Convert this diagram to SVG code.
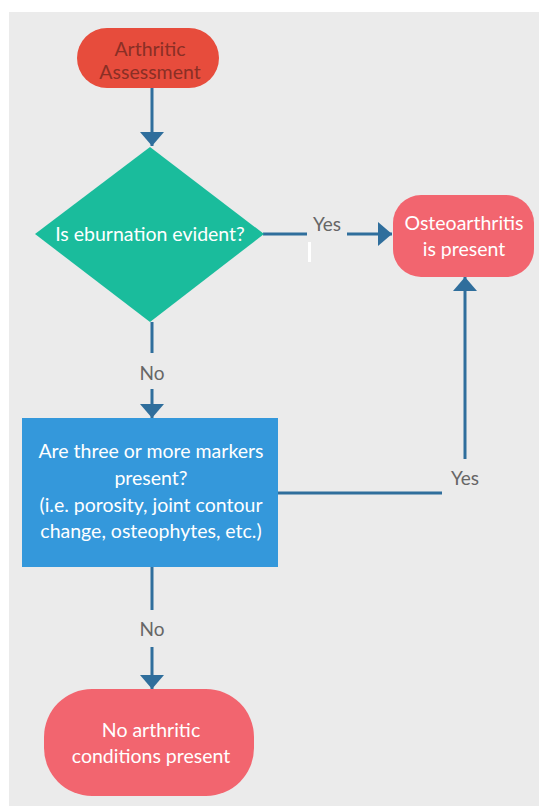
<svg xmlns="http://www.w3.org/2000/svg" width="539" height="806" viewBox="0 0 539 806">
<defs>
<style>
.lbl{font-family:Lato,"Open Sans","Liberation Sans",sans-serif;font-size:19.5px;text-anchor:middle}
.w{fill:#ffffff}
.lk{font-family:Lato,"Open Sans","Liberation Sans",sans-serif;font-size:19px;fill:#666666;text-anchor:middle}
.c{stroke:#2f6e9c;stroke-width:3;fill:none}
</style>
<marker id="arr" viewBox="0 0 14 24" refX="14" refY="12" markerWidth="14" markerHeight="24" markerUnits="userSpaceOnUse" orient="auto">
<path d="M0,0 L14,12 L0,24 z" fill="#2f6e9c"/>
</marker>
</defs>
<rect x="0" y="0" width="539" height="806" fill="#ffffff"/>
<rect x="9" y="12" width="530" height="794" fill="#ebebeb"/>

<g id="connectors">
<path class="c" d="M152,88 V146" marker-end="url(#arr)"/>
<path class="c" d="M263,234 H307"/>
<path class="c" d="M347,234 H392" marker-end="url(#arr)"/>
<path class="c" d="M152,322 V353"/>
<path class="c" d="M152,389 V418" marker-end="url(#arr)"/>
<path class="c" d="M278,493 H442"/>
<path class="c" d="M465,459 V277" marker-end="url(#arr)"/>
<path class="c" d="M152,567 V610"/>
<path class="c" d="M152,647 V689" marker-end="url(#arr)"/>
<rect x="308" y="242" width="3" height="20" fill="#ffffff"/>
<text class="lk" x="327" y="231">Yes</text>
<text class="lk" x="152" y="380">No</text>
<text class="lk" x="465" y="485">Yes</text>
<text class="lk" x="152" y="636">No</text>
</g>

<g id="start">
<rect x="77" y="28" width="142" height="60" rx="30" fill="#e74c3c"/>
<text class="lbl" fill="#8a2f25" x="150" y="56">Arthritic</text>
<text class="lbl" fill="#8a2f25" x="150" y="79">Assessment</text>
</g>

<g id="decision1">
<polygon points="150,147 264,234 150,322 35,234" fill="#1abc9c"/>
<text class="lbl w" x="150" y="241">Is eburnation evident?</text>
</g>

<g id="osteo">
<rect x="393" y="195" width="141" height="82" rx="28" fill="#f2656f"/>
<text class="lbl w" x="464" y="230">Osteoarthritis</text>
<text class="lbl w" x="464" y="256">is present</text>
</g>

<g id="decision2">
<rect x="22" y="418" width="256" height="149" fill="#3498db"/>
<text class="lbl w" x="151" y="458">Are three or more markers</text>
<text class="lbl w" x="151" y="485">present?</text>
<text class="lbl w" x="151" y="512">(i.e. porosity, joint contour</text>
<text class="lbl w" x="151" y="538">change, osteophytes, etc.)</text>
</g>

<g id="end">
<rect x="44" y="689" width="210" height="107" rx="48" fill="#f2656f"/>
<text class="lbl w" x="151" y="737">No arthritic</text>
<text class="lbl w" x="151" y="763">conditions present</text>
</g>
</svg>
